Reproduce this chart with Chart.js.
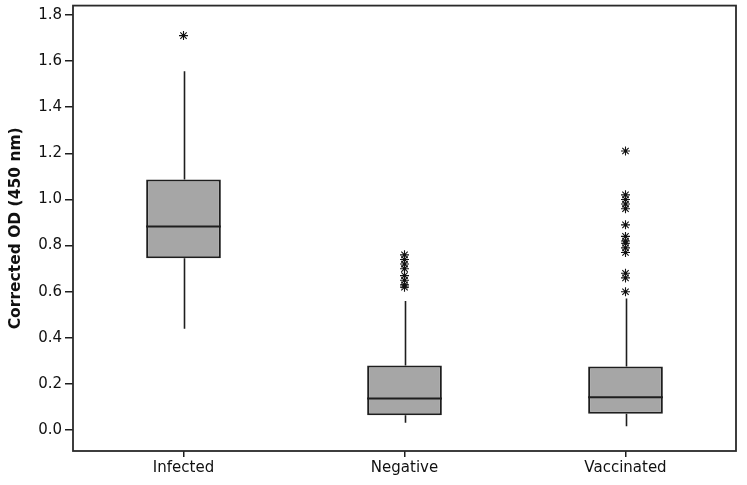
<!DOCTYPE html>
<html lang="en">
<head>
    <meta charset="UTF-8">
    <title>Corrected OD box plot</title>
    <script src="https://cdn.jsdelivr.net/npm/chart.js"></script>
    <style>
        body {
            margin: 0;
            padding: 0;
            background-color: #ffffff;
        }

        .chart-box {
            width: 747px;
            height: 485px;
        }
    </style>
</head>
<body>
    <div class="chart-box">
        <canvas id="odChart"></canvas>
    </div>

    <script>
        // box plot data
        const groups = ['Infected', 'Negative', 'Vaccinated'];
        const whiskerLow = [0.44, 0.032, 0.017];
        const q1 = [0.745, 0.065, 0.071];
        const median = [0.883, 0.137, 0.143];
        const q3 = [1.087, 0.281, 0.276];
        const whiskerHigh = [1.555, 0.56, 0.571];
        const outliersInfected = [1.71];
        const outliersNegative = [0.76, 0.74, 0.72, 0.70, 0.67, 0.65, 0.63, 0.62];
        const outliersVaccinated = [1.21, 1.02, 1.00, 0.98, 0.96, 0.89, 0.84, 0.82, 0.81, 0.79, 0.77, 0.68, 0.66, 0.60];
        const yTicks = [0, 0.2, 0.4, 0.6, 0.8, 1.0, 1.2, 1.4, 1.6, 1.8];

        const outlierPoints = [];
        [outliersInfected, outliersNegative, outliersVaccinated].forEach((list, i) => {
            list.forEach(v => outlierPoints.push({ x: groups[i], y: v }));
        });

        const lineColor = '#1e1e1e';

        // whiskers and median lines, placed with the chart's scales
        const boxLines = {
            id: 'boxLines',
            beforeDatasetsDraw(chart) {
                const ctx = chart.ctx;
                const xs = chart.scales.x, ys = chart.scales.y;
                ctx.save();
                ctx.strokeStyle = lineColor;
                ctx.lineWidth = 1.6;
                groups.forEach((g, i) => {
                    const cx = Math.round(xs.getPixelForValue(i)) + 0.5;
                    ctx.beginPath();
                    ctx.moveTo(cx, ys.getPixelForValue(whiskerHigh[i]));
                    ctx.lineTo(cx, ys.getPixelForValue(q3[i]));
                    ctx.moveTo(cx, ys.getPixelForValue(q1[i]));
                    ctx.lineTo(cx, ys.getPixelForValue(whiskerLow[i]));
                    ctx.stroke();
                });
                ctx.restore();
            },
            afterDatasetsDraw(chart) {
                const ctx = chart.ctx;
                const ys = chart.scales.y;
                const meta = chart.getDatasetMeta(0);
                ctx.save();
                ctx.strokeStyle = lineColor;
                ctx.lineWidth = 2;
                meta.data.forEach((bar, i) => {
                    const half = bar.width / 2;
                    const y = ys.getPixelForValue(median[i]);
                    ctx.beginPath();
                    ctx.moveTo(bar.x - half, y);
                    ctx.lineTo(bar.x + half, y);
                    ctx.stroke();
                });
                // frame round the plot area
                const a = chart.chartArea;
                ctx.strokeStyle = '#2a2a2a';
                ctx.lineWidth = 1.8;
                ctx.strokeRect(a.left, a.top, a.right - a.left, a.bottom - a.top);
                ctx.restore();
            }
        };

        new Chart(document.getElementById('odChart'), {
            type: 'bar',
            data: {
                labels: groups,
                datasets: [{
                    label: 'IQR',
                    data: groups.map((g, i) => [q1[i], q3[i]]),
                    backgroundColor: '#a6a6a6',
                    borderColor: lineColor,
                    borderWidth: 2,
                    borderSkipped: false,
                    categoryPercentage: 1,
                    barPercentage: 0.338
                }, {
                    type: 'line',
                    label: 'Outliers',
                    data: outlierPoints,
                    showLine: false,
                    pointStyle: 'star',
                    pointRadius: 4.5,
                    pointBorderWidth: 1.1,
                    pointBorderColor: '#111111',
                    pointBackgroundColor: '#111111'
                }]
            },
            options: {
                responsive: true,
                maintainAspectRatio: false,
                animation: false,
                layout: { padding: { top: 5, right: 11, left: 0, bottom: 0 } },
                plugins: {
                    legend: { display: false },
                    tooltip: { enabled: false }
                },
                scales: {
                    x: {
                        offset: true,
                        afterFit: s => { s.height = 34; s.paddingLeft = 0; s.paddingRight = 0; },
                        grid: {
                            offset: false,
                            drawOnChartArea: false,
                            drawTicks: true,
                            tickLength: 6,
                            color: lineColor,
                            lineWidth: 1.5
                        },
                        border: { display: false },
                        ticks: {
                            color: '#111111',
                            padding: 2,
                            font: { family: 'DejaVu Sans', size: 15 }
                        }
                    },
                    y: {
                        min: -0.09,
                        max: 1.84,
                        afterFit: s => { s.width = 73; s.paddingTop = 0; s.paddingBottom = 0; },
                        afterBuildTicks: s => { s.ticks = yTicks.map(v => ({ value: v })); },
                        grid: {
                            drawOnChartArea: false,
                            drawTicks: true,
                            tickLength: 8,
                            color: lineColor,
                            lineWidth: 1.5
                        },
                        border: { display: false },
                        title: {
                            display: true,
                            text: 'Corrected OD (450 nm)',
                            color: '#111111',
                            padding: { top: 7, bottom: 2 },
                            font: { family: 'DejaVu Sans', size: 15.5, weight: 'bold' }
                        },
                        ticks: {
                            color: '#111111',
                            padding: 3,
                            font: { family: 'DejaVu Sans', size: 15 },
                            callback: v => v.toFixed(1)
                        }
                    }
                }
            },
            plugins: [boxLines]
        });
    </script>
</body>
</html>
